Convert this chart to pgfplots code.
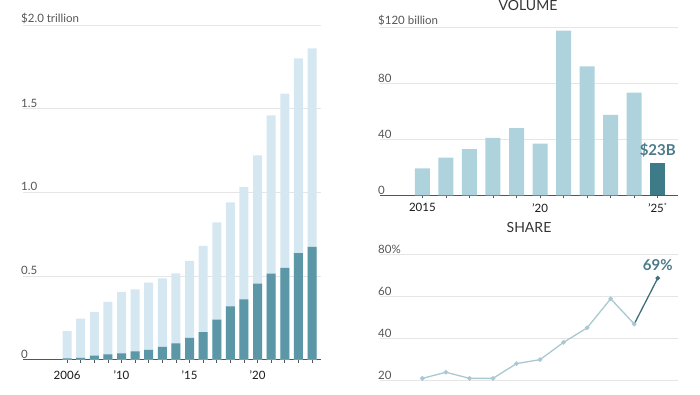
\documentclass[border=0pt]{standalone}
\usepackage{pgfplots}
\pgfplotsset{compat=1.18}
\usepackage{fontspec}
\setmainfont{Lato}
\definecolor{lightL}{HTML}{D5E7F1}
\definecolor{darkL}{HTML}{5B97A6}
\definecolor{lightR}{HTML}{AED3DD}
\definecolor{darkR}{HTML}{3E7B89}
\definecolor{lineL}{HTML}{A9C9D1}
\definecolor{lineD}{HTML}{3F6F7C}
\definecolor{gridc}{HTML}{E6E6E6}
\definecolor{axc}{HTML}{555555}
\definecolor{lblc}{HTML}{4B7A88}
\pgfplotsset{
  base/.style={
    scale only axis, anchor=south west,
    /pgf/number format/assume math mode=true,
    axis x line*=bottom, axis y line*=left,
    y axis line style={draw=none},
    x axis line style={draw=axc, line width=0.8pt},
    ytick style={draw=none},
    xtick style={draw=axc, line width=0.6pt},
    tick align=outside, major tick length=3pt,
    ymajorgrids, grid style={gridc, line width=0.6pt},
    yticklabel style={anchor=south west, inner sep=1pt, font=\fontsize{11.5}{13}\selectfont, text=axc},
    xticklabel style={font=\fontsize{11.5}{13}\selectfont, text=black!90},
    clip=false,
  }
}
\begin{document}
\begin{tikzpicture}[x=1pt,y=1pt]
\useasboundingbox (0,0) rectangle (700,394);
% Left chart
\begin{axis}[base, at={(23pt,34.5pt)}, width=298pt, height=334.5pt,
  xmin=2002.76, xmax=2024.66, ymin=0, ymax=2,
  ytick={0,0.5,1,1.5,2}, yticklabels={0,0.5,1.0,1.5,\$2.0 trillion},
  xtick={2006,...,2024},
  xticklabels={2006,,,,'10,,,,,'15,,,,,'20,,,,},
  xticklabel style={yshift=-5pt},
  ybar, bar width=9pt]
\addplot[fill=lightL, draw=none, bar shift=0pt] coordinates {
(2006,0.17) (2007,0.245) (2008,0.285) (2009,0.345) (2010,0.405) (2011,0.42) (2012,0.46) (2013,0.485) (2014,0.515) (2015,0.59) (2016,0.68) (2017,0.82) (2018,0.94) (2019,1.03) (2020,1.22) (2021,1.46) (2022,1.59) (2023,1.80) (2024,1.86)};
\addplot[fill=darkL, draw=none, bar shift=0pt] coordinates {
(2006,0.007) (2007,0.01) (2008,0.023) (2009,0.031) (2010,0.037) (2011,0.049) (2012,0.057) (2013,0.075) (2014,0.097) (2015,0.13) (2016,0.163) (2017,0.238) (2018,0.318) (2019,0.36) (2020,0.454) (2021,0.514) (2022,0.548) (2023,0.636) (2024,0.674)};
\end{axis}
% Top right: volume
\begin{axis}[base, at={(380pt,198.7pt)}, width=298pt, height=168pt,
  xmin=2013.2, xmax=2025.86, ymin=0, ymax=120,
  ytick={0,40,80,120}, yticklabels={0,40,80,\$120 billion},
  xtick={2015,...,2025},
  xticklabels={2015,,,,,'20,,,,,'25\textsuperscript{\scriptsize*}},
  xticklabel style={yshift=-1.5pt},
  ybar, bar width=15pt]
\addplot[fill=lightR, draw=none, bar shift=0pt] coordinates {
(2015,19.3) (2016,26.9) (2017,32.9) (2018,41) (2019,47.9) (2020,36.9) (2021,117.6) (2022,92.1) (2023,57.4) (2024,73.3)};
\addplot[fill=darkR, draw=none, bar shift=0pt] coordinates {(2025,23.3)};
\node[text=lblc, font=\fontsize{15}{17}\selectfont\bfseries, anchor=south] at (axis cs:2025,25) {\$23B};
\end{axis}
\node[font=\fontsize{14}{16}\selectfont, text=black!80, anchor=north, inner sep=0.5pt] at (528,394) {VOLUME};
\node[font=\fontsize{14}{16}\selectfont, text=black!80] at (529,167) {SHARE};
% Bottom right: share
\begin{axis}[base, at={(380pt,-28.8pt)}, width=298pt, height=168.5pt,
  xmin=2013.2, xmax=2025.86, ymin=0, ymax=80,
  ytick={20,40,60,80}, yticklabels={20,40,60,80\%},
  xtick=\empty, x axis line style={draw=none}]
\addplot[lineL, line width=1.3pt, mark=*, mark size=1.6pt, mark options={fill=lineL, draw=lineL}] coordinates {
(2015,21.1) (2016,24) (2017,21.1) (2018,21.1) (2019,28.1) (2020,30) (2021,38.2) (2022,45.1) (2023,58.9) (2024,46.9)};
\addplot[lineD, line width=1.3pt, mark=*, mark size=1.6pt, mark options={fill=lineD, draw=lineD}, mark indices={2}] coordinates {(2024,46.9) (2025,68.7)};
\node[text=lblc, font=\fontsize{15}{17}\selectfont\bfseries, anchor=south] at (axis cs:2025,70.5) {69\%};
\end{axis}
\end{tikzpicture}
\end{document}
